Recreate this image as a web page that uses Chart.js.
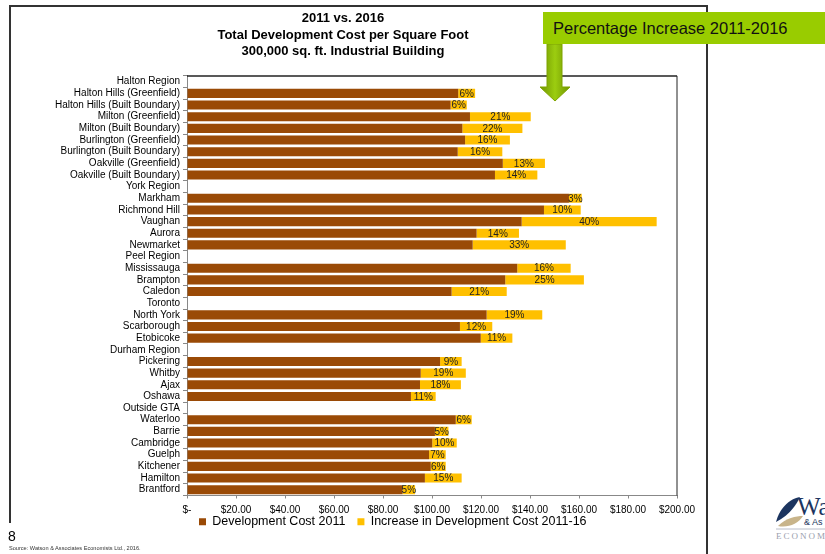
<!DOCTYPE html>
<html>
<head>
<meta charset="utf-8">
<script src="https://cdn.jsdelivr.net/npm/chart.js@4.4.1/dist/chart.umd.min.js"></script>
<style>
  body { margin: 0; background: #fff; font-family: "Liberation Sans", Arial, sans-serif; }
  #page { position: relative; width: 825px; height: 554px; overflow: hidden; }
  .rule { position: absolute; background: #333; }
  #chartBox { position: absolute; left: 9px; top: 5px; width: 698px; height: 545px; }
  #callout { position: absolute; left: 543px; top: 12px; width: 290px; height: 32px; background: #99cc00;
             font-size: 16.5px; line-height: 32px; padding-left: 10px; color: #111; box-sizing: border-box; }
  #arrow { position: absolute; left: 538px; top: 44px; }
  #pageNo { position: absolute; left: 8px; top: 528px; font-size: 14px; }
  #source { position: absolute; left: 9px; top: 545px; font-size: 5.6px; color: #333; }
  #logo { position: absolute; left: 770px; top: 488px; }
</style>
</head>
<body>
<div id="page">
  <div class="rule" style="left:9px; top:5px; width:699px; height:2px;"></div>
  <div class="rule" style="left:9px; top:5px; width:2px; height:518px;"></div>
  <div class="rule" style="left:706px; top:5px; width:1.5px; height:560px;"></div>
  <div id="chartBox"><canvas id="costChart"></canvas></div>
  <div id="callout">Percentage Increase 2011-2016</div>
  <svg id="arrow" width="36" height="60">
    <defs>
      <linearGradient id="ag" x1="0" x2="1" y1="0" y2="0">
        <stop offset="0" stop-color="#6f9400"/>
        <stop offset="0.5" stop-color="#9ccd10"/>
        <stop offset="1" stop-color="#6f9400"/>
      </linearGradient>
    </defs>
    <path d="M9 0 H24 V43 H32 L17 57 L2 43 H9 Z" fill="url(#ag)" stroke="#7ea300" stroke-width="1"/>
  </svg>
  <div id="pageNo">8</div>
  <div id="source">Source: Watson &amp; Associates Economists Ltd., 2016.</div>
  <svg id="logo" width="60" height="60">
    <path d="M6 34 C10 18 22 10 30 9 C26 18 18 28 6 34 Z" fill="#1c3560"/>
    <path d="M8 38 C16 30 26 28 33 28 C28 36 18 40 8 38 Z" fill="#c8b48a"/>
    <text x="27" y="27" font-family="Liberation Serif, serif" font-size="25" fill="#1c3560">Wa</text>
    <text x="34" y="37" font-family="Liberation Sans, Arial" font-size="9" fill="#1c3560">&amp; As</text>
    <line x1="6" y1="41" x2="60" y2="41" stroke="#b8bcc8" stroke-width="1"/>
    <text x="6" y="51" font-family="Liberation Serif, serif" font-size="9" letter-spacing="2" fill="#9aa0ad">ECONOM</text>
  </svg>
</div>

<script>
const categories = [
  'Halton Region', 'Halton Hills (Greenfield)', 'Halton Hills (Built Boundary)', 'Milton (Greenfield)',
  'Milton (Built Boundary)', 'Burlington (Greenfield)', 'Burlington (Built Boundary)', 'Oakville (Greenfield)',
  'Oakville (Built Boundary)', 'York Region', 'Markham', 'Richmond Hill', 'Vaughan', 'Aurora', 'Newmarket',
  'Peel Region', 'Mississauga', 'Brampton', 'Caledon', 'Toronto', 'North York', 'Scarborough', 'Etobicoke',
  'Durham Region', 'Pickering', 'Whitby', 'Ajax', 'Oshawa', 'Outside GTA', 'Waterloo', 'Barrie', 'Cambridge',
  'Guelph', 'Kitchener', 'Hamilton', 'Brantford'
];

// $ per sq. ft. in 2011 (region header rows have no bar)
const cost2011 = [
  null, 110.7, 107.6, 115.5, 112.4, 113.5, 110.5, 128.9, 125.7,
  null, 155.9, 145.7, 136.6, 118.2, 116.6,
  null, 134.8, 129.9, 108.0,
  null, 122.3, 111.4, 119.9,
  null, 103.3, 95.4, 95.1, 91.4,
  null, 109.7, 101.2, 100.1, 98.8, 99.5, 97.1, 88.0
];

// $ per sq. ft. added between 2011 and 2016
const increase = [
  null, 6.9, 6.6, 24.8, 24.5, 18.3, 18.2, 17.2, 17.3,
  null, 5.2, 15.0, 55.1, 17.3, 38.0,
  null, 21.8, 32.1, 22.5,
  null, 22.7, 13.2, 12.9,
  null, 8.8, 18.4, 16.7, 10.1,
  null, 6.5, 5.5, 10.0, 6.8, 6.1, 15.0, 5.1
];

const pctLabels = [
  null, '6%', '6%', '21%', '22%', '16%', '16%', '13%', '14%',
  null, '3%', '10%', '40%', '14%', '33%',
  null, '16%', '25%', '21%',
  null, '19%', '12%', '11%',
  null, '9%', '19%', '18%', '11%',
  null, '6%', '5%', '10%', '7%', '6%', '15%', '5%'
];

const xTickLabels = ['$-', '$20.00', '$40.00', '$60.00', '$80.00', '$100.00',
                     '$120.00', '$140.00', '$160.00', '$180.00', '$200.00'];

const FONT = '"Liberation Sans", Arial, sans-serif';

// percent labels centred on the yellow segment
const pctLabelPlugin = {
  id: 'pctLabels',
  afterDatasetsDraw(chart) {
    const ctx = chart.ctx;
    const meta = chart.getDatasetMeta(1);
    ctx.save();
    ctx.font = '10px ' + FONT;
    ctx.fillStyle = '#222';
    ctx.textAlign = 'center';
    ctx.textBaseline = 'middle';
    meta.data.forEach((bar, i) => {
      if (!pctLabels[i]) return;
      ctx.fillText(pctLabels[i], (bar.base + bar.x) / 2, bar.y + 0.5);
    });
    ctx.restore();
  }
};

// top and right edges of the plot area
const plotBorderPlugin = {
  id: 'plotBorder',
  afterDraw(chart) {
    const { ctx, chartArea: a } = chart;
    ctx.save();
    ctx.strokeStyle = '#222';
    ctx.lineWidth = 1.5;
    ctx.beginPath();
    ctx.moveTo(a.left, a.top);
    ctx.lineTo(a.right, a.top);
    ctx.stroke();
    ctx.lineWidth = 1;
    ctx.beginPath();
    ctx.moveTo(a.right, a.top);
    ctx.lineTo(a.right, a.bottom);
    ctx.stroke();
    ctx.restore();
  }
};

// pull the legend row up closer to the tick labels
const legendNudgePlugin = {
  id: 'legendNudge',
  afterLayout(chart) {
    const lg = chart.legend;
    if (!lg) return;
    lg.top -= 12;
    lg.bottom -= 12;
  }
};

new Chart(document.getElementById('costChart'), {
  type: 'bar',
  data: {
    labels: categories,
    datasets: [{
      label: 'Development Cost 2011',
      data: cost2011,
      backgroundColor: '#9a4a06',
      categoryPercentage: 1,
      barPercentage: 0.78
    }, {
      label: 'Increase in Development Cost 2011-16',
      data: increase,
      backgroundColor: '#ffc000',
      categoryPercentage: 1,
      barPercentage: 0.78
    }]
  },
  options: {
    indexAxis: 'y',
    responsive: true,
    maintainAspectRatio: false,
    animation: false,
    layout: { padding: { left: 0, right: 30, top: 0, bottom: 0 } },
    plugins: {
      title: {
        display: true,
        text: ['2011 vs. 2016', 'Total Development Cost per Square Foot', '300,000 sq. ft. Industrial Building'],
        color: '#000',
        font: { family: FONT, size: 13, weight: 'bold', lineHeight: 1.28 },
        padding: { top: 5, bottom: 16 }
      },
      legend: {
        position: 'bottom',
        align: 'start',
        fullSize: false,
        labels: {
          boxWidth: 7,
          boxHeight: 7,
          padding: 12,
          color: '#000',
          font: { family: FONT, size: 12.5 }
        }
      },
      tooltip: { enabled: false }
    },
    scales: {
      x: {
        stacked: true,
        min: 0,
        max: 200,
        afterFit: scale => { scale.height = 20; },
        ticks: {
          stepSize: 20,
          padding: 6,
          color: '#000',
          font: { family: FONT, size: 10 },
          callback: (value, index) => xTickLabels[index]
        },
        grid: { drawOnChartArea: false, tickLength: 3, color: '#888' },
        border: { color: '#888' }
      },
      y: {
        stacked: true,
        afterFit: scale => { scale.width = 178; },
        ticks: {
          autoSkip: false,
          padding: 3,
          color: '#000',
          font: { family: FONT, size: 10 }
        },
        grid: { drawOnChartArea: false, tickLength: 4, color: '#888', offset: true },
        border: { color: '#888' }
      }
    }
  },
  plugins: [pctLabelPlugin, plotBorderPlugin, legendNudgePlugin]
});
</script>
</body>
</html>
